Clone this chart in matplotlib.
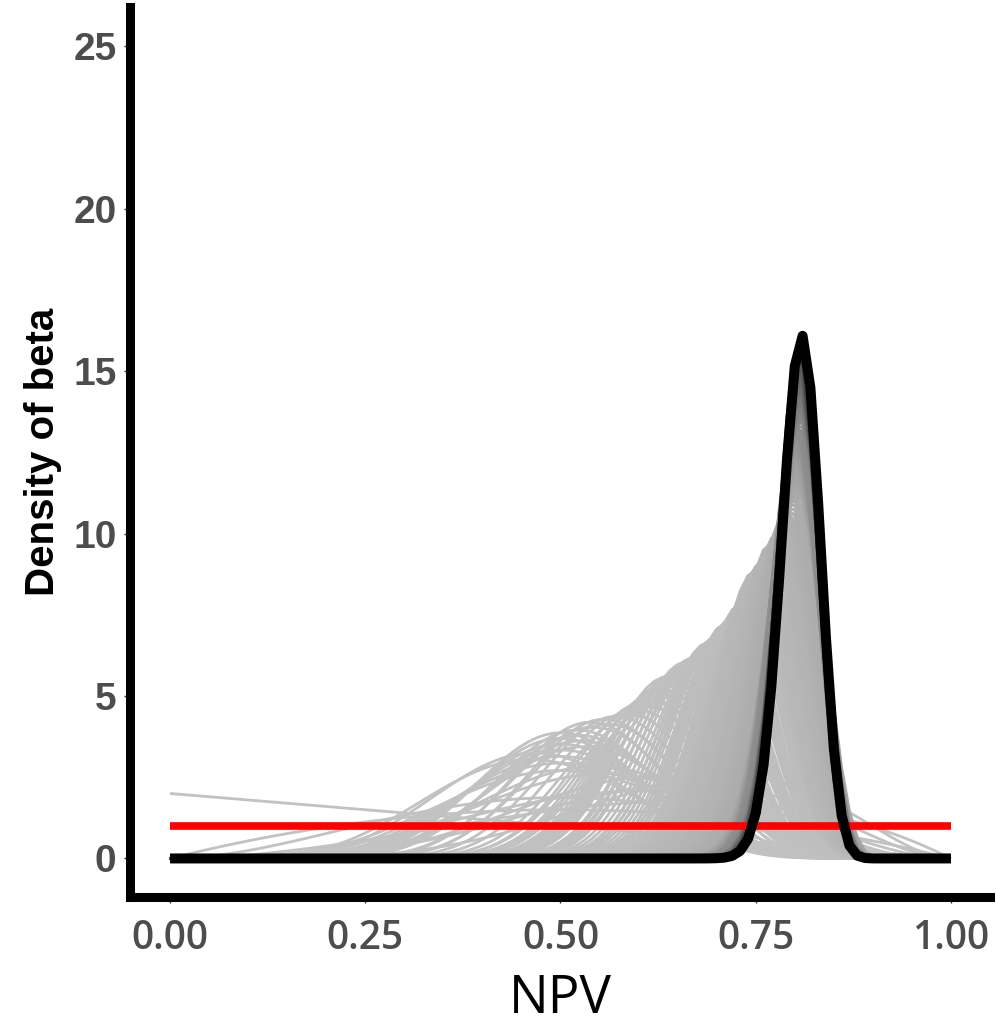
import math
import matplotlib
matplotlib.use("Agg")
import matplotlib.pyplot as plt
import numpy as np

# observed outcomes (1 = negative test was truly negative), in order
outcomes = ("0110111000"
            "100101101010"
            "11101111"
            "110111011101101"
            "11110111"
            "111101111111011111110111"
            "1110111101111011"
            "1111111110" "1111111111110" "11111111111110"
            "1111011110" "1111011110" "1111011110" "1111011110" "1111011111"
            "11110111101111011110111101111011110111101111011110111101111011110111111")
prior_a, prior_b = 1, 1
x_grid = np.linspace(0, 1, 101)

x_ticks = [0.00, 0.25, 0.50, 0.75, 1.00]
x_ticklabels = ["0.00", "0.25", "0.50", "0.75", "1.00"]
y_ticks = [0, 5, 10, 15, 20, 25]


def beta_pdf(x, a, b):
    lbeta = math.lgamma(a) + math.lgamma(b) - math.lgamma(a + b)
    return x ** (a - 1) * (1 - x) ** (b - 1) * math.exp(-lbeta)


obs = np.array([int(c) for c in outcomes])
succ = np.cumsum(obs)
fail = np.cumsum(1 - obs)
n_curves = len(obs)

fig = plt.figure(figsize=(9.96, 10.28), dpi=100)
ax = fig.add_axes([0.131, 0.127, 0.863, 0.866])

for i in range(n_curves - 1):
    t = i / (n_curves - 1)
    g = 0.76 - 0.5 * t ** 2.5
    ax.plot(x_grid, beta_pdf(x_grid, prior_a + succ[i], prior_b + fail[i]),
            color=(g, g, g), lw=2.0, solid_capstyle="butt")

ax.plot(x_grid, beta_pdf(x_grid, prior_a, prior_b), color="red", lw=5.5,
        solid_capstyle="butt")
ax.plot(x_grid, beta_pdf(x_grid, prior_a + succ[-1], prior_b + fail[-1]),
        color="black", lw=7.2, solid_capstyle="butt", solid_joinstyle="round")

ax.set_xlim(-0.0506, 1.05)
ax.set_ylim(-1.2, 26.2)

for side in ["top", "right"]:
    ax.spines[side].set_visible(False)
for side in ["left", "bottom"]:
    ax.spines[side].set_linewidth(6.5)
    ax.spines[side].set_capstyle("projecting")

ax.set_yticks(y_ticks)
ax.set_yticklabels([str(v) for v in y_ticks], fontfamily="Liberation Sans",
                   fontweight="bold", fontsize=28, color="#4d4d4d")
ax.set_xticks(x_ticks)
ax.set_xticklabels(x_ticklabels, fontfamily="Open Sans", fontweight="semibold",
                   fontsize=28, color="#4d4d4d")
ax.tick_params(axis="y", length=4, width=1, color="#333333", pad=6)
ax.tick_params(axis="x", length=4.5, width=1, color="#333333", pad=11)

# x title placed by baseline so it sits near the bottom edge like the reference
fig.text(0.5623, 15 / 1028, "NPV", fontfamily="Open Sans", fontsize=38,
         color="black", ha="center", va="baseline")
ax.set_ylabel("Density of beta", fontfamily="Liberation Sans", fontweight="bold",
              fontsize=29, color="black", labelpad=8)

fig.savefig("out.png", dpi=100, facecolor="white")
